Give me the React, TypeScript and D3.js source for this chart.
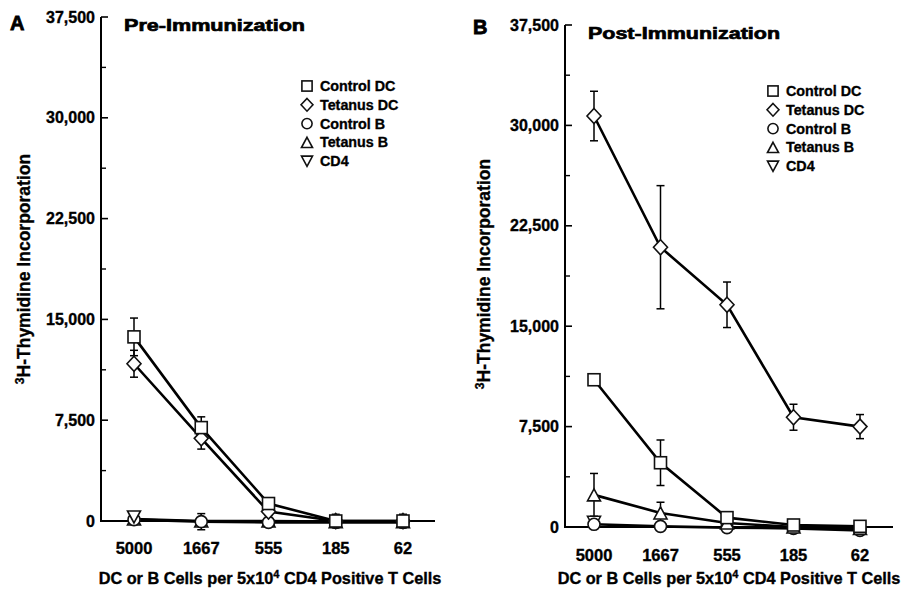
import React from "react";
import * as d3 from "d3";

const doses = ["5000", "1667", "555", "185", "62"];
const yTicks = [0, 7500, 15000, 22500, 30000, 37500];
const seriesNames = ["Control DC", "Tetanus DC", "Control B", "Tetanus B", "CD4"];
const seriesShapes = ["square", "diamond", "circle", "triUp", "triDown"];

// Pre-immunization (panel A); null = not measured
const preControlDC = [13700, 6950, 1300, 0, 0];
const preControlDCErr = [1400, 800, 300, 500, 500];
const preTetanusDC = [11700, 6150, 700, 0, 0];
const preTetanusDCErr = [1000, 800, 300, 0, 0];
const preControlB = [100, -50, -100, -100, -100];
const preControlBErr = [0, 600, 0, 0, 0];
const preTetanusB = [150, 0, 0, -50, -50];
const preTetanusBErr = [200, 0, 0, 0, 0];
const preCD4 = [300, null, null, null, null];
const preCD4Err = [200, 0, 0, 0, 0];

// Post-immunization (panel B)
const postControlDC = [11000, 4800, 700, 150, 50];
const postControlDCErr = [300, 1700, 200, 100, 100];
const postTetanusDC = [30700, 20900, 16600, 8200, 7500];
const postTetanusDCErr = [1850, 4600, 1700, 970, 900];
const postControlB = [200, 50, -50, -100, -250];
const postControlBErr = [100, 100, 0, 0, 0];
const postTetanusB = [2400, 1050, 300, 0, -100];
const postTetanusBErr = [1600, 800, 0, 0, 0];
const postCD4 = [350, null, null, null, null];
const postCD4Err = [200, 0, 0, 0, 0];

const FONT = "'Liberation Sans', Arial, Helvetica, sans-serif";

type Series = { name: string; shape: string; values: (number | null)[]; errs: number[] };

const preSeries: Series[] = [
  { name: seriesNames[3], shape: seriesShapes[3], values: preTetanusB, errs: preTetanusBErr },
  { name: seriesNames[2], shape: seriesShapes[2], values: preControlB, errs: preControlBErr },
  { name: seriesNames[4], shape: seriesShapes[4], values: preCD4, errs: preCD4Err },
  { name: seriesNames[1], shape: seriesShapes[1], values: preTetanusDC, errs: preTetanusDCErr },
  { name: seriesNames[0], shape: seriesShapes[0], values: preControlDC, errs: preControlDCErr },
];
const postSeries: Series[] = [
  { name: seriesNames[4], shape: seriesShapes[4], values: postCD4, errs: postCD4Err },
  { name: seriesNames[2], shape: seriesShapes[2], values: postControlB, errs: postControlBErr },
  { name: seriesNames[3], shape: seriesShapes[3], values: postTetanusB, errs: postTetanusBErr },
  { name: seriesNames[0], shape: seriesShapes[0], values: postControlDC, errs: postControlDCErr },
  { name: seriesNames[1], shape: seriesShapes[1], values: postTetanusDC, errs: postTetanusDCErr },
];

function Marker({ shape, x, y, s = 1 }: { shape: string; x: number; y: number; s?: number }) {
  const common = { fill: "#fff", stroke: "#111", strokeWidth: 1.6 };
  if (shape === "square") {
    const h = 6 * s;
    return <rect x={x - h} y={y - h} width={2 * h} height={2 * h} {...common} />;
  }
  if (shape === "diamond") {
    const w = 7 * s, h = 7.5 * s;
    return <path d={`M${x},${y - h}L${x + w},${y}L${x},${y + h}L${x - w},${y}Z`} {...common} />;
  }
  if (shape === "circle") {
    return <circle cx={x} cy={y} r={6 * s} {...common} />;
  }
  if (shape === "triUp") {
    const w = 6.5 * s, h = 6 * s;
    return <path d={`M${x},${y - h}L${x + w},${y + h}L${x - w},${y + h}Z`} {...common} />;
  }
  const w = 6.5 * s, h = 6 * s;
  return <path d={`M${x},${y + h}L${x + w},${y - h}L${x - w},${y - h}Z`} {...common} />;
}

type PanelProps = {
  letter: string;
  letterX: number;
  letterY: number;
  title: string;
  titleX: number;
  titleY: number;
  titleLen: number;
  axisX: number;
  y0: number;
  yTop: number;
  xEnd: number;
  xFirst: number;
  xLast: number;
  tickLabelY: number;
  xTitleX: number;
  xTitleY: number;
  yTitleX: number;
  yTitleY: number;
  legendX: number;
  legendY: number;
  series: Series[];
};

function Panel(p: PanelProps) {
  const y = d3.scaleLinear().domain([0, 37500]).range([p.y0, p.yTop]);
  const x = d3.scalePoint<string>().domain(doses).range([p.xFirst, p.xLast]);
  const line = d3
    .line<number | null>()
    .defined((v) => v !== null)
    .x((_, i) => x(doses[i]) as number)
    .y((v) => y(v as number));
  const minor = d3.range(3750, 37500, 7500);
  const heavy = { stroke: "#000", strokeWidth: 0.35 };

  return (
    <g>
      <text x={p.letterX} y={p.letterY} fontFamily={FONT} fontWeight={900} fontSize={20} fill="#000" stroke="#000" strokeWidth={0.8}>
        {p.letter}
      </text>
      <text
        x={p.titleX}
        y={p.titleY}
        fontFamily={FONT}
        fontWeight={900}
        fontSize={17}
        textLength={p.titleLen}
        lengthAdjust="spacingAndGlyphs"
        fill="#000"
        stroke="#000"
        strokeWidth={0.7}
      >
        {p.title}
      </text>

      {/* axes */}
      <line x1={p.axisX} x2={p.axisX} y1={p.yTop} y2={p.y0 + 1} stroke="#000" strokeWidth={2} />
      <line x1={p.axisX} x2={p.xEnd} y1={p.y0} y2={p.y0} stroke="#000" strokeWidth={2} />
      {yTicks.map((t) => (
        <g key={t}>
          <line x1={p.axisX} x2={p.axisX + 7} y1={y(t)} y2={y(t)} stroke="#000" strokeWidth={1.6} />
          <text
            x={p.axisX - 6}
            y={y(t)}
            dy="0.35em"
            textAnchor="end"
            fontFamily={FONT}
            fontWeight="bold"
            fontSize={16}
            fill="#000"
            {...heavy}
          >
            {d3.format(",")(t)}
          </text>
        </g>
      ))}
      {minor.map((t) => (
        <line key={t} x1={p.axisX} x2={p.axisX + 5} y1={y(t)} y2={y(t)} stroke="#000" strokeWidth={1.4} />
      ))}
      {doses.map((d) => (
        <text
          key={d}
          x={x(d)}
          y={p.tickLabelY}
          dy="0.35em"
          textAnchor="middle"
          fontFamily={FONT}
          fontWeight="bold"
          fontSize={16.5}
          fill="#000"
          {...heavy}
        >
          {d}
        </text>
      ))}
      <text
        x={p.xTitleX}
        y={p.xTitleY}
        dy="0.35em"
        textAnchor="middle"
        fontFamily={FONT}
        fontWeight="bold"
        fontSize={16.3}
        fill="#000"
        {...heavy}
      >
        DC or B Cells per 5x10<tspan dy="-6" fontSize={11}>4</tspan>
        <tspan dy="6"> CD4 Positive T Cells</tspan>
      </text>
      <text
        transform={`translate(${p.yTitleX},${p.yTitleY}) rotate(-90)`}
        textAnchor="middle"
        fontFamily={FONT}
        fontWeight="bold"
        fontSize={17.5}
        fill="#000"
        {...heavy}
      >
        <tspan dy="0" fontSize={12}>3</tspan>
        <tspan dy="6">H-Thymidine Incorporation</tspan>
      </text>

      {/* error bars */}
      {p.series.map((s) =>
        s.values.map((v, i) => {
          if (v === null || !(s.errs[i] > 0)) return null;
          const cx = x(doses[i]) as number;
          return (
            <g key={s.name + i} stroke="#000" strokeWidth={1.5}>
              <line x1={cx} x2={cx} y1={y(v - s.errs[i])} y2={y(v + s.errs[i])} />
              <line x1={cx - 4} x2={cx + 4} y1={y(v + s.errs[i])} y2={y(v + s.errs[i])} />
              <line x1={cx - 4} x2={cx + 4} y1={y(v - s.errs[i])} y2={y(v - s.errs[i])} />
            </g>
          );
        })
      )}
      {/* lines */}
      {p.series.map((s) => (
        <path key={s.name} d={line(s.values) || ""} fill="none" stroke="#000" strokeWidth={2.6} />
      ))}
      {/* markers */}
      {p.series.map((s) =>
        s.values.map((v, i) =>
          v === null ? null : (
            <Marker key={s.name + "m" + i} shape={s.shape} x={x(doses[i]) as number} y={y(v)} />
          )
        )
      )}

      {/* legend */}
      {seriesNames.map((n, i) => (
        <g key={n}>
          <Marker shape={seriesShapes[i]} x={p.legendX} y={p.legendY + i * 18.8} s={0.85} />
          <text
            x={p.legendX + 13}
            y={p.legendY + i * 18.8}
            dy="0.35em"
            fontFamily={FONT}
            fontWeight="bold"
            fontSize={14.3}
            fill="#000"
            {...heavy}
          >
            {n}
          </text>
        </g>
      ))}
    </g>
  );
}

export default function App() {
  return (
    <svg width={902} height={590} style={{ display: "block", position: "absolute", left: 0, top: 0 }}>
      <rect width={902} height={590} fill="#fff" />
      <Panel
        letter="A"
        letterX={10}
        letterY={30}
        title="Pre-Immunization"
        titleX={124}
        titleY={31}
        titleLen={181}
        axisX={101}
        y0={521}
        yTop={17}
        xEnd={435}
        xFirst={134}
        xLast={403}
        tickLabelY={548}
        xTitleX={270}
        xTitleY={578}
        yTitleX={24}
        yTitleY={269}
        legendX={307}
        legendY={86}
        series={preSeries}
      />
      <Panel
        letter="B"
        letterX={473}
        letterY={34}
        title="Post-Immunization"
        titleX={588}
        titleY={39}
        titleLen={192}
        axisX={565}
        y0={527}
        yTop={25}
        xEnd={893}
        xFirst={594}
        xLast={860}
        tickLabelY={555}
        xTitleX={729}
        xTitleY={578}
        yTitleX={484}
        yTitleY={274}
        legendX={773}
        legendY={91}
        series={postSeries}
      />
    </svg>
  );
}
